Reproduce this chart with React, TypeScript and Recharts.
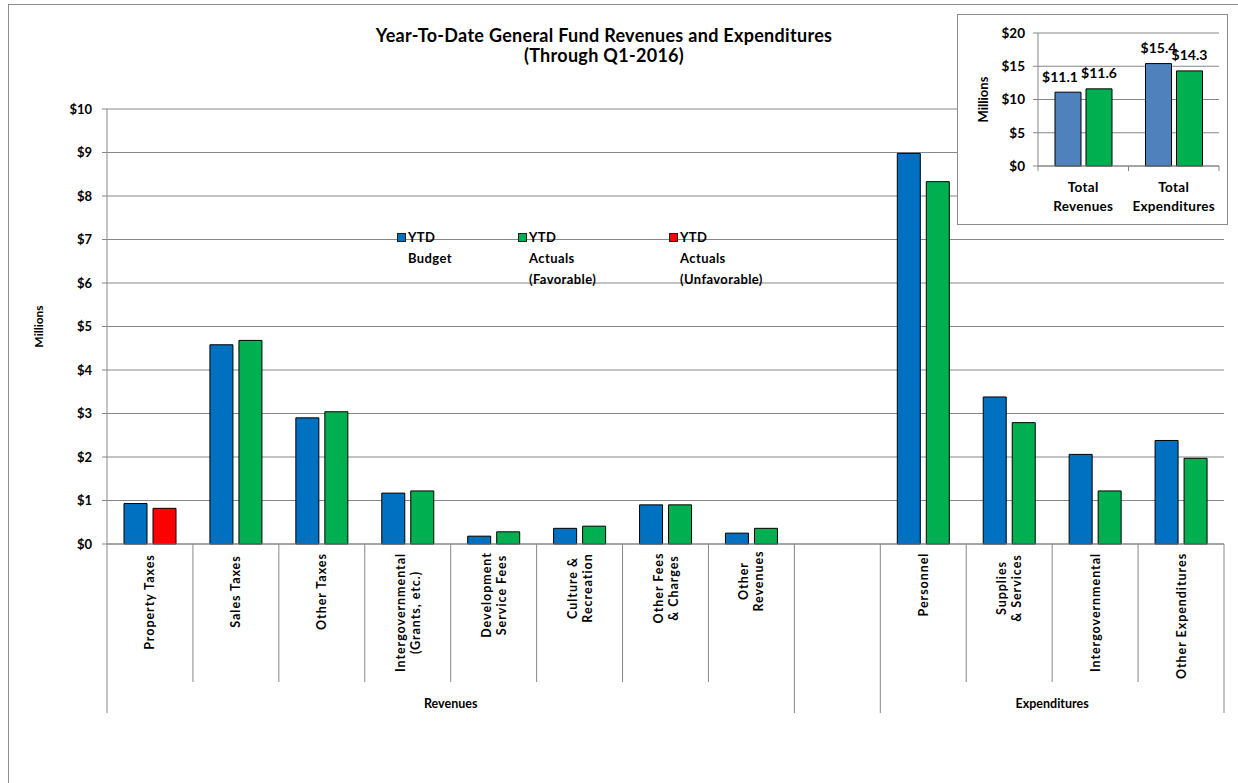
import React from 'react';
import { BarChart, Bar, XAxis, YAxis, CartesianGrid, Cell, Legend, LabelList } from 'recharts';

// ---------- data ----------
const categories = [
  'Property Taxes',
  'Sales Taxes',
  'Other Taxes',
  'Intergovernmental\n(Grants, etc.)',
  'Development\nService Fees',
  'Culture &\nRecreation',
  'Other Fees\n& Charges',
  'Other\nRevenues',
  ' ',
  'Personnel',
  'Supplies\n& Services',
  'Intergovernmental',
  'Other Expenditures',
];
const budgetValues = [0.93, 4.58, 2.9, 1.17, 0.18, 0.36, 0.9, 0.25, null, 8.98, 3.38, 2.06, 2.38];
const actualValues = [0.82, 4.68, 3.04, 1.22, 0.28, 0.41, 0.9, 0.36, null, 8.33, 2.79, 1.22, 1.97];
const actualFavorable = [false, true, true, true, true, true, true, true, true, true, true, true, true];
const groups = [
  { name: 'Revenues', size: 8 },
  { name: '', size: 1 },
  { name: 'Expenditures', size: 4 },
];
const yTicks = [0, 1, 2, 3, 4, 5, 6, 7, 8, 9, 10];

const summaryCategories = ['Total\nRevenues', 'Total\nExpenditures'];
const summaryBudget = [11.1, 15.4];
const summaryActual = [11.6, 14.3];
const summaryTicks = [0, 5, 10, 15, 20];

const legendItems = [
  { lines: ['YTD', 'Budget'], color: '#0070C0' },
  { lines: ['YTD', 'Actuals', '(Favorable)'], color: '#00B050' },
  { lines: ['YTD', 'Actuals', '(Unfavorable)'], color: '#FF0000' },
];

const BLUE = '#0070C0';
const GREEN = '#00B050';
const RED = '#FF0000';
const SUM_BLUE = '#4F81BD';
const GRID = '#878787';
const FONT = 'Lato, "Open Sans", "DejaVu Sans", sans-serif';

const mainData = categories.map((name, i) => ({
  name,
  budget: budgetValues[i],
  actual: actualValues[i],
  favorable: actualFavorable[i],
}));
const summaryData = summaryCategories.map((name, i) => ({
  name,
  budget: summaryBudget[i],
  actual: summaryActual[i],
}));

// group boundary indices
const groupStart: Record<number, { name: string; size: number }> = {};
{
  let idx = 0;
  groups.forEach((g) => {
    groupStart[idx] = g;
    idx += g.size;
  });
}

const CategoryTick = (props: any) => {
  const { x, y, payload } = props;
  const i = payload?.index ?? props.index ?? 0;
  const half = payload?.offset ?? 43;
  const lines = String(payload.value).split('\n');
  const maxLen = Math.max(...lines.map((l) => l.length));
  const est = maxLen * 7;
  const top = y + 9;
  const els: any[] = [];
  lines.forEach((ln, k) => {
    const dx = (k - (lines.length - 1) / 2) * 15;
    if (ln.trim() === '') return;
    els.push(
      <text
        key={'l' + k}
        transform={`translate(${x + dx},${top + est / 2}) rotate(-90)`}
        textAnchor="middle"
        dominantBaseline="central"
        fontSize={12.5}
        fontWeight={700}
        letterSpacing={0.95}
        fill="#000"
      >
        {ln}
      </text>
    );
  });
  const left = x - half;
  const g = groupStart[i];
  els.push(
    <line key="d" x1={left} x2={left} y1={y} y2={y + (g ? 169 : 138)} stroke={GRID} strokeWidth={1} />
  );
  if (i === categories.length - 1) {
    els.push(
      <line key="dr" x1={x + half} x2={x + half} y1={y} y2={y + 169} stroke={GRID} strokeWidth={1} />
    );
  }
  if (g && g.name) {
    els.push(
      <text
        key="g"
        x={left + g.size * half}
        y={y + 159}
        textAnchor="middle"
        dominantBaseline="central"
        fontSize={12.5}
        fontWeight={700}
        fill="#000"
      >
        {g.name}
      </text>
    );
  }
  return <g>{els}</g>;
};

const SummaryTick = (props: any) => {
  const { x, y, payload } = props;
  const half = payload?.offset ?? 45;
  const lines = String(payload.value).split('\n');
  return (
    <g>
      <line x1={x - half} x2={x - half} y1={y} y2={y + 5} stroke={GRID} />
      <line x1={x + half} x2={x + half} y1={y} y2={y + 5} stroke={GRID} />
      {lines.map((ln, k) => (
        <text
          key={k}
          x={x}
          y={y + 21 + k * 19}
          textAnchor="middle"
          dominantBaseline="central"
          fontSize={13.5}
          fontWeight={700}
          letterSpacing={0.3}
          fill="#000"
        >
          {ln}
        </text>
      ))}
    </g>
  );
};

const SummaryValueLabel = (shiftFirst: number) => (p: any) => {
  const { x, y, width, value, index } = p;
  const dx = index === 0 ? shiftFirst : 0;
  return (
    <text
      x={x + width / 2 + dx}
      y={y - 16}
      textAnchor="middle"
      dominantBaseline="central"
      fontSize={14}
      fontWeight={700}
      fill="#000"
    >
      {`$${Number(value).toFixed(1)}`}
    </text>
  );
};

const LegendContent = () => (
  <div style={{ position: 'relative', width: 420, height: 70, fontFamily: FONT }}>
    {legendItems.map((it, i) => (
      <div key={i} style={{ position: 'absolute', left: [0, 121, 272][i], top: 0 }}>
        <div
          style={{
            position: 'absolute',
            left: 0,
            top: 2,
            width: 9,
            height: 9,
            boxSizing: 'border-box',
            background: it.color,
            border: '1px solid #222',
          }}
        />
        <div
          style={{
            position: 'absolute',
            left: 11,
            top: -4,
            fontSize: 13,
            fontWeight: 700,
            lineHeight: '21px',
            letterSpacing: 0.4,
            whiteSpace: 'nowrap',
            color: '#000',
          }}
        >
          {it.lines.map((l, k) => (
            <div key={k}>{l}</div>
          ))}
        </div>
      </div>
    ))}
  </div>
);

const YLabel = (label: string, dx: number, size: number) => (p: any) => {
  const vb = p.viewBox || {};
  const cx = (vb.x ?? 0) + dx;
  const cy = (vb.y ?? 0) + (vb.height ?? 0) / 2;
  return (
    <text
      transform={`translate(${cx},${cy}) rotate(-90)`}
      textAnchor="middle"
      dominantBaseline="central"
      fontSize={size}
      fontWeight={700}
      fill="#000"
    >
      {label}
    </text>
  );
};

export default function App() {
  return (
    <div
      style={{
        position: 'absolute',
        left: 8,
        top: 4,
        width: 1230,
        height: 779,
        boxSizing: 'border-box',
        borderLeft: '1px solid #8c8c8c',
        borderTop: '1px solid #8c8c8c',
        overflow: 'hidden',
        background: '#fff',
        fontFamily: FONT,
      }}
    >
      <BarChart
        width={1229}
        height={778}
        data={mainData}
        margin={{ top: 104, right: 14, left: 0, bottom: 0 }}
        barCategoryGap={17}
        barGap={6}
      >
        <CartesianGrid vertical={false} stroke={GRID} strokeWidth={1} />
        <XAxis
          dataKey="name"
          height={239}
          interval={0}
          tickLine={false}
          tickSize={0}
          tickMargin={0}
          stroke={GRID}
          tick={<CategoryTick />}
        />
        <YAxis
          width={98}
          domain={[0, 10]}
          ticks={yTicks}
          tickFormatter={(v: number) => `$${v}`}
          stroke={GRID}
          tickSize={5}
          tickMargin={10}
          tick={{ fontSize: 13, fontWeight: 700, fill: '#000' }}
          label={{ content: YLabel('Millions', 29, 12) } as any}
        />
        <Legend
          layout="horizontal"
          verticalAlign="middle"
          align="center"
          content={<LegendContent />}
          wrapperStyle={{ left: 388, top: 226, width: 420, height: 70 }}
        />
        <Bar dataKey="budget" fill={BLUE} stroke="#000" strokeWidth={1} isAnimationActive={false} />
        <Bar dataKey="actual" fill={GREEN} stroke="#000" strokeWidth={1} isAnimationActive={false}>
          {mainData.map((d, i) => (
            <Cell key={i} fill={d.favorable ? GREEN : RED} />
          ))}
        </Bar>
      </BarChart>

      <div
        style={{
          position: 'absolute',
          left: 0,
          top: 20,
          width: 1190,
          textAlign: 'center',
          fontSize: 18,
          fontWeight: 700,
          letterSpacing: 0.3,
          lineHeight: '20px',
          color: '#000',
        }}
      >
        <div>Year-To-Date General Fund Revenues and Expenditures</div>
        <div>(Through Q1-2016)</div>
      </div>

      <div
        style={{
          position: 'absolute',
          left: 948,
          top: 9,
          width: 271,
          height: 211,
          boxSizing: 'border-box',
          border: '1px solid #8c8c8c',
          background: '#fff',
        }}
      >
        <BarChart
          width={269}
          height={209}
          data={summaryData}
          margin={{ top: 18, right: 8, left: 0, bottom: 0 }}
          barCategoryGap={17}
          barGap={5}
        >
          <CartesianGrid vertical={false} stroke={GRID} strokeWidth={1} />
          <XAxis
            dataKey="name"
            height={58}
            interval={0}
            tickLine={false}
            tickSize={0}
            tickMargin={0}
            stroke={GRID}
            tick={<SummaryTick />}
          />
          <YAxis
            width={80}
            domain={[0, 20]}
            ticks={summaryTicks}
            tickFormatter={(v: number) => `$${v}`}
            stroke={GRID}
            tickSize={5}
            tickMargin={8}
            tick={{ fontSize: 13.5, fontWeight: 700, fill: '#000' }}
            label={{ content: YLabel('Millions', 25, 13) } as any}
          />
          <Bar dataKey="budget" fill={SUM_BLUE} stroke="#000" strokeWidth={1} isAnimationActive={false}>
            <LabelList dataKey="budget" content={SummaryValueLabel(-8)} />
          </Bar>
          <Bar dataKey="actual" fill={GREEN} stroke="#000" strokeWidth={1} isAnimationActive={false}>
            <LabelList dataKey="actual" content={SummaryValueLabel(0)} />
          </Bar>
        </BarChart>
      </div>
    </div>
  );
}
